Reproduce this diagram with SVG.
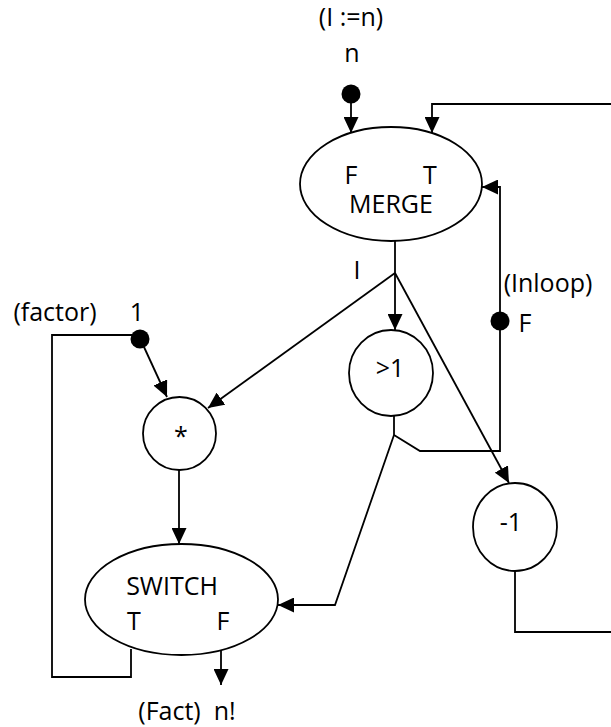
<svg xmlns="http://www.w3.org/2000/svg" width="611" height="727" viewBox="0 0 611 727">
  <style>
    text { font-family: "Open Sans", "Liberation Sans", sans-serif; font-size: 25px; fill: #000; text-anchor: middle; }
    .node { fill: #fff; stroke: #000; stroke-width: 1.8; }
    .wire { fill: none; stroke: #000; stroke-width: 1.8; }
    .arrow { fill: none; stroke: #000; stroke-width: 1.8; marker-end: url(#head); }
    .token { fill: #000; }
  </style>
  <defs>
    <marker id="head" markerUnits="userSpaceOnUse" markerWidth="16" markerHeight="15" viewBox="0 0 16 15" refX="16" refY="7.5" orient="auto">
      <path d="M0,0 L16,7.5 L0,15 z" fill="#000"/>
    </marker>
  </defs>

  <rect width="611" height="727" fill="#fff"/>

  <!-- connectors -->
  <g id="connectors">
    <!-- initial token n into MERGE (F) -->
    <line class="arrow" x1="351" y1="103" x2="351" y2="133"/>
    <!-- loop return into MERGE (T) -->
    <polyline class="arrow" points="611,104 432,104 432,133"/>
    <!-- Inloop control into MERGE -->
    <polyline class="arrow" points="500,321 500,187 482,187"/>
    <!-- MERGE output I to branch point -->
    <line class="wire" x1="395" y1="241" x2="395" y2="273"/>
    <line class="arrow" x1="395" y1="273" x2="395" y2="330"/>
    <line class="arrow" x1="395" y1="273" x2="208" y2="408"/>
    <line class="arrow" x1="395" y1="273" x2="509" y2="483"/>
    <!-- >1 output: to Inloop and to SWITCH -->
    <line class="wire" x1="394" y1="416" x2="394" y2="435"/>
    <polyline class="wire" points="394,435 420,451 500,451 500,321"/>
    <polyline class="arrow" points="394,435 335,605 278,605"/>
    <!-- factor token into * -->
    <line class="arrow" x1="144" y1="347" x2="167" y2="397"/>
    <!-- * to SWITCH -->
    <line class="arrow" x1="179" y1="470" x2="179" y2="544"/>
    <!-- SWITCH T back to factor -->
    <polyline class="wire" points="131,649 131,677 52,677 52,335 140,335"/>
    <!-- SWITCH F output -->
    <line class="arrow" x1="221" y1="650" x2="221" y2="685"/>
    <!-- -1 output loops back -->
    <polyline class="wire" points="515,571 515,632 611,632"/>
  </g>

  <!-- tokens -->
  <circle class="token" cx="351" cy="94" r="9.5"/>
  <circle class="token" cx="140" cy="339" r="9.5"/>
  <circle class="token" cx="500" cy="321" r="9.5"/>

  <!-- nodes -->
  <g id="merge">
    <ellipse class="node" cx="391" cy="184" rx="91" ry="57"/>
    <text x="351" y="184">F</text>
    <text x="430" y="184">T</text>
    <text x="391" y="213">MERGE</text>
  </g>
  <g id="gt1">
    <ellipse class="node" cx="391" cy="373" rx="42" ry="43"/>
    <text x="390" y="377">&gt;1</text>
  </g>
  <g id="mul">
    <circle class="node" cx="179.5" cy="433.5" r="36.5"/>
    <text x="181" y="445">*</text>
  </g>
  <g id="dec">
    <ellipse class="node" cx="515" cy="527" rx="42" ry="44"/>
    <text x="511" y="531">-1</text>
  </g>
  <g id="switch">
    <ellipse class="node" cx="181.5" cy="599.5" rx="96.5" ry="55.5"/>
    <text x="172" y="595">SWITCH</text>
    <text x="134" y="630">T</text>
    <text x="223" y="630">F</text>
  </g>

  <!-- labels -->
  <g id="labels">
    <text x="351" y="26">(I :=n)</text>
    <text x="352" y="62">n</text>
    <text x="357" y="279">I</text>
    <text x="548" y="292">(Inloop)</text>
    <text x="525" y="332">F</text>
    <text x="55" y="321">(factor)</text>
    <text x="137" y="321">1</text>
    <text x="187" y="720" xml:space="preserve">(Fact)  n!</text>
  </g>
</svg>
